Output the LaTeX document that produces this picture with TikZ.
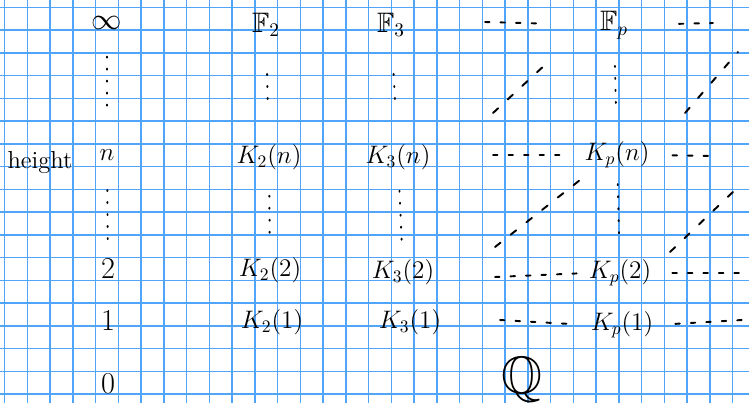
\documentclass[tikz,border=0pt]{standalone}
\usepackage{amsmath,amssymb}
\usetikzlibrary{positioning}

\definecolor{gridblue}{RGB}{80,165,250}
\tikzset{
  gridline/.style={draw=gridblue, line width=0.85pt},
  ink/.style={black, line width=1.1pt, line cap=round},
  vdots/.style={ink, dash pattern=on 0.02cm off 0.22cm},
  hdash/.style={ink, dash pattern=on 0.09cm off 0.22cm},
  ddash/.style={ink, dash pattern=on 0.14cm off 0.26cm},
  lbl/.style={font=\fontsize{14}{16}\selectfont, inner sep=1pt},
  big/.style={font=\fontsize{16}{18}\selectfont, inner sep=1pt},
}

\begin{document}
\begin{tikzpicture}[x=0.02cm, y=-0.02cm]
% paper
\fill[white] (0,0) rectangle (749,403);
\useasboundingbox (0,0) rectangle (749,403);
\foreach \i in {0,...,32}
  \draw[gridline] ({4.7+22.75*\i},0) -- ({4.7+22.75*\i},403);
\foreach \j in {0,...,17}
  \draw[gridline] (0,{7.25+22.75*\j}) -- (749,{7.25+22.75*\j});

% height column
\node[lbl] (height) at (40,162) {height};
\node[big] (inf) at (107,23) {$\infty$};
\node[lbl] (hn) at (107,155) {$n$};
\node[big] (h2) at (108,269) {$2$};
\node[big] (h1) at (108,321) {$1$};
\node[big] (h0) at (108,384) {$0$};
\draw[vdots, shorten <=0.5cm, shorten >=0.76cm] (inf) -- (hn);
\draw[vdots, shorten <=0.55cm, shorten >=0.36cm] (hn) -- (h2);

% F_2
\node[big] (F2) at (266,25) {$\mathbb{F}_2$};
\node[lbl] (K2n) at (269,157) {$K_2(n)$};
\node[lbl] (K22) at (270,270) {$K_2(2)$};
\node[lbl] (K21) at (272,322) {$K_2(1)$};
\draw[vdots, shorten <=0.7cm, shorten >=0.8cm] (F2) -- (K2n);
\draw[vdots, shorten <=0.48cm, shorten >=0.32cm] (K2n) -- (K22);

% F_3
\node[big] (F3) at (391,25) {$\mathbb{F}_3$};
\node[lbl] (K3n) at (398,157) {$K_3(n)$};
\node[lbl] (K32) at (403,272) {$K_3(2)$};
\node[lbl] (K31) at (410,322) {$K_3(1)$};
\draw[vdots, shorten <=0.7cm, shorten >=0.8cm] (F3) -- (K3n);
\draw[vdots, shorten <=0.38cm, shorten >=0.32cm] (K3n) -- (K32);

% F_p
\node[big] (Fp) at (614,25) {$\mathbb{F}_p$};
\node[lbl] (Kpn) at (617,155) {$K_p(n)$};
\node[lbl] (Kp2) at (620,273) {$K_p(2)$};
\node[lbl] (Kp1) at (622,325) {$K_p(1)$};
\draw[vdots, shorten <=0.5cm, shorten >=0.7cm] (Fp) -- (Kpn);
\draw[vdots, shorten <=0.28cm, shorten >=0.38cm] (Kpn) -- (Kp2);

% dashes on either side
\coordinate (lTop) at (485,22);
\coordinate (rTop) at (713,23);
\coordinate (lN) at (493,155);
\coordinate (rN) at (712,156);
\coordinate (lTwo) at (495,277);
\coordinate (rTwo) at (749,273);
\coordinate (lOne) at (500,320);
\coordinate (rOne) at (742,320);
\draw[hdash, shorten >=1.04cm] (lTop) -- (Fp.west);
\draw[hdash, shorten <=0.98cm] (Fp.east) -- (rTop);
\draw[hdash, shorten >=0.28cm] (lN) -- (Kpn.west);
\draw[hdash, shorten <=0.42cm] (Kpn.east) -- (rN);
\draw[hdash, shorten >=0.2cm] (lTwo) -- (Kp2.west);
\draw[hdash, shorten <=0.38cm] (Kp2.east) -- (rTwo);
\draw[hdash, shorten >=0.34cm] (lOne) -- (Kp1.west);
\draw[hdash, shorten <=0.4cm] (Kp1.east) -- (rOne);

% diagonals
\coordinate (dA1) at (493,113);
\coordinate (dA2) at (547,63);
\coordinate (dB1) at (685,113);
\coordinate (dB2) at (738,52);
\coordinate (dC1) at (495,247);
\coordinate (dC2) at (580,180);
\coordinate (dD1) at (670,252);
\coordinate (dD2) at (735,190);
\draw[ddash] (dA1) -- (dA2);
\draw[ddash] (dB1) -- (dB2);
\draw[ddash] (dC1) -- (dC2);
\draw[ddash] (dD1) -- (dD2);

% rationals
\node[font=\fontsize{30}{32}\selectfont, inner sep=1pt] (Q) at (522,380) {$\mathbb{Q}$};
\end{tikzpicture}
\end{document}
